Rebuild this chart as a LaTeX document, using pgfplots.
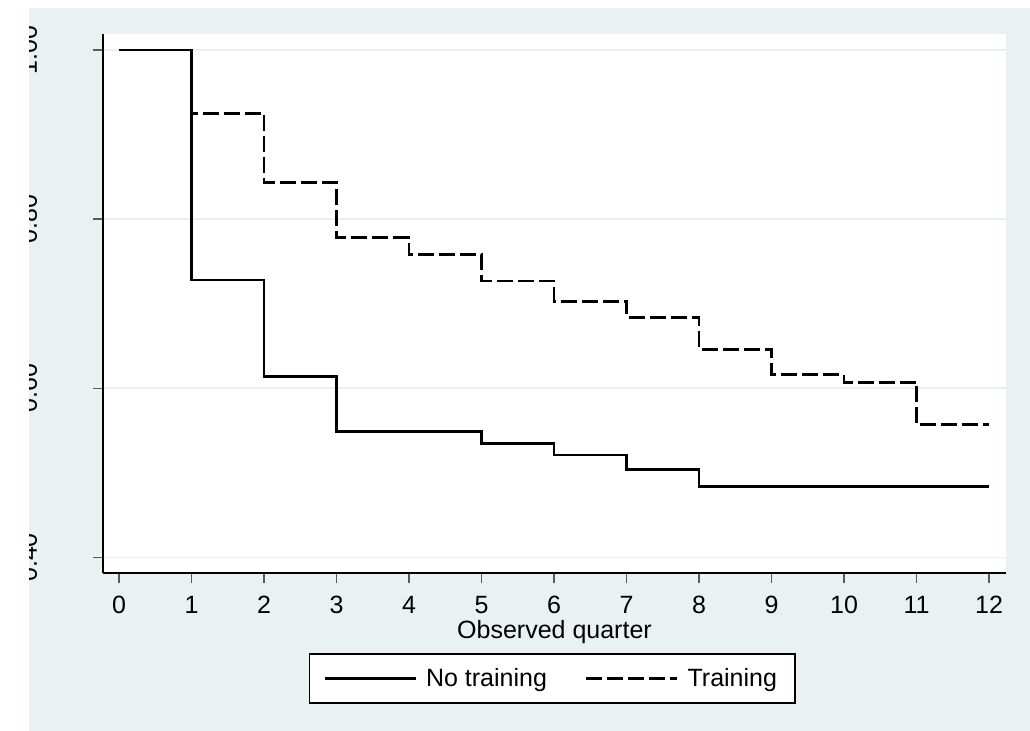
\documentclass[border=0pt]{standalone}
\usepackage{pgfplots}
\pgfplotsset{compat=1.18}
\usepackage{fontspec}
\setmainfont{Liberation Sans}
\definecolor{bg}{RGB}{234,241,243}
\definecolor{gridc}{RGB}{232,240,242}
\definecolor{tickc}{RGB}{90,90,90}
\begin{document}
\begin{tikzpicture}[x=1pt,y=1pt]
\path[use as bounding box] (0,0) rectangle (515,365.5);
\fill[bg] (14.5,0) rectangle (515,361.5);
\begin{axis}[
  at={(51.5pt,79pt)}, anchor=south west,
  scale only axis, width=451.5pt, height=269.5pt,
  xmin=-0.2207, xmax=12.234, ymin=0.3817, ymax=1.0189,
  axis background/.style={fill=white},
  axis x line*=bottom, axis y line*=left,
  axis line style={black, line width=0.6pt, -},
  xtick={0,1,...,12}, ytick={0.4,0.6,0.8,1.0},
  yticklabels={0.40,0.60,0.80,1.00},
  tick align=outside, major tick length=5pt,
  tick style={tickc, line width=0.75pt},
  /pgf/number format/assume math mode=true,
  font=\fontsize{12.5}{15}\selectfont,
  ticklabel style={font=\fontsize{12.5}{15}\selectfont},
  xticklabel style={anchor=base, yshift=-15.3pt, inner sep=0pt},
  yticklabel style={rotate=90, anchor=base, yshift=28pt},
  ymajorgrids, grid style={gridc, line width=0.9pt},
  xlabel={Observed quarter},
  xlabel style={at={(axis description cs:0.5,-0.121)}, anchor=base, inner sep=0pt},
  legend columns=2,
  legend style={at={(axis description cs:0.4975,-0.1957)}, anchor=center,
    draw=black, line width=0.6pt, fill=white,
    font=\fontsize{12.5}{15}\selectfont,
    /tikz/every even column/.append style={column sep=17pt},
    /tikz/every odd column/.append style={column sep=2.5pt},
    inner xsep=7pt, inner ysep=5pt},
  legend image code/.code={\draw[#1] (0pt,0pt) -- (45.5pt,0pt);},
]
\addplot[const plot, black, line width=1.3pt] coordinates {
(0,1) (1,0.728) (2,0.614) (3,0.549) (5,0.535) (6,0.521) (7,0.504) (8,0.484) (12,0.484)};
\addlegendentry{No training}
\addplot[const plot, black, line width=1.3pt, dash pattern=on 8pt off 2.5pt] coordinates {
(0,1) (1,0.925) (2,0.843) (3,0.778) (4,0.758) (5,0.727) (6,0.703) (7,0.684) (8,0.646) (9,0.616) (10,0.607) (11,0.557) (12,0.557)};
\addlegendentry{Training}
\end{axis}
\fill[white] (0,0) rectangle (14.5,365.5);
\fill[white] (0,361.5) rectangle (515,365.5);
\end{tikzpicture}
\end{document}
